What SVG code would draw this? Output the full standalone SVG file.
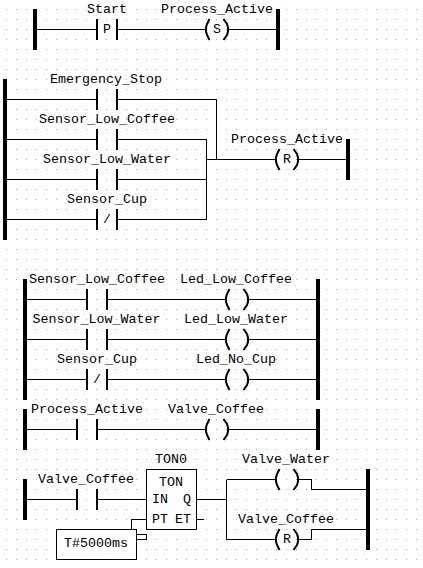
<svg xmlns="http://www.w3.org/2000/svg" width="423" height="568" viewBox="0 0 423 568">
<style>
text{font-family:"Liberation Mono","Courier New",monospace;font-size:13.33px;fill:#000}
.w{fill:none;stroke:#000;stroke-width:1;shape-rendering:crispEdges}
.c{stroke:#000;stroke-width:2;shape-rendering:crispEdges;fill:none}
.b{fill:#000;shape-rendering:crispEdges}
.p{fill:none;stroke:#000;stroke-width:2}
.box{fill:#fff;stroke:#000;stroke-width:1;shape-rendering:crispEdges}
</style>
<defs>
<pattern id="dots" width="10" height="10" patternUnits="userSpaceOnUse" x="6" y="9"><rect width="1" height="1" fill="#a8a8a8"/></pattern>
<g id="contact"><path class="c" d="M-10 -10.5V10.5M10 -10.5V10.5"/></g>
<g id="coil"><path class="p" d="M-7.5 -10.5L-10 -5.5L-11 -2V2L-10 5.5L-7.5 10.5M6.5 -10.5L10 -5.5L11 -2V2L10 5.5L6.5 10.5"/></g>
</defs>
<rect width="423" height="568" fill="#fff"/>
<rect width="423" height="568" fill="url(#dots)"/>
<g id="connectors">
<path class="w" d="M37 29.5H97M117 29.5H206M228 29.5H276"/>
<path class="w" d="M7 99.5H97M117 99.5H216.5V159.5M7 139.5H97M117 139.5H206.5V219.5M7 179.5H97M117 179.5H206.5M7 219.5H97M117 219.5H206.5M206.5 159.5H276M298 159.5H346"/>
<path class="w" d="M27 299.5H87M107 299.5H226M248 299.5H316M27 339.5H87M107 339.5H226M248 339.5H316M27 379.5H87M107 379.5H226M248 379.5H316"/>
<path class="w" d="M27 429.5H77M97 429.5H206M228 429.5H316"/>
<path class="w" d="M27 499.5H77M97 499.5H146M196 499.5H226.5M226.5 479.5V539.5M226.5 479.5H276M226.5 539.5H276M298 479.5H311.5V489.5H366M298 539.5H311.5V529.5H366M197 519.5H204M131.5 529V519.5H146M136 534.5H146.5V539.5H136"/>
</g>
<g id="rails">
<rect class="b" x="33" y="9" width="4" height="41"/><rect class="b" x="276" y="9" width="4" height="41"/>
<rect class="b" x="3" y="79" width="4" height="161"/><rect class="b" x="346" y="139" width="4" height="41"/>
<rect class="b" x="23" y="279" width="4" height="121"/><rect class="b" x="316" y="279" width="4" height="121"/>
<rect class="b" x="23" y="409" width="4" height="41"/><rect class="b" x="316" y="409" width="4" height="41"/>
<rect class="b" x="23" y="479" width="4" height="41"/><rect class="b" x="366" y="469" width="4" height="81"/>
</g>
<g id="c1"><use href="#contact" x="107" y="29.5"/><text x="87" y="13">Start</text><text x="103" y="33">P</text></g>
<g id="o1"><use href="#coil" x="217" y="29.5"/><text x="161" y="13">Process_Active</text><text x="213" y="33">S</text></g>
<g id="c2"><use href="#contact" x="107" y="99.5"/><text x="50" y="83">Emergency_Stop</text></g>
<g id="c3"><use href="#contact" x="107" y="139.5"/><text x="39" y="123">Sensor_Low_Coffee</text></g>
<g id="c4"><use href="#contact" x="107" y="179.5"/><text x="43" y="163">Sensor_Low_Water</text></g>
<g id="c5"><use href="#contact" x="107" y="219.5"/><text x="67" y="203">Sensor_Cup</text><text x="103" y="223">/</text></g>
<g id="o2"><use href="#coil" x="287" y="159.5"/><text x="231" y="143">Process_Active</text><text x="283" y="163">R</text></g>
<g id="c6"><use href="#contact" x="97" y="299.5"/><text x="29" y="283">Sensor_Low_Coffee</text></g>
<g id="o3"><use href="#coil" x="237" y="299.5"/><text x="180" y="283">Led_Low_Coffee</text></g>
<g id="c7"><use href="#contact" x="97" y="339.5"/><text x="32.5" y="323">Sensor_Low_Water</text></g>
<g id="o4"><use href="#coil" x="237" y="339.5"/><text x="184" y="323">Led_Low_Water</text></g>
<g id="c8"><use href="#contact" x="97" y="379.5"/><text x="57" y="363">Sensor_Cup</text><text x="93" y="383">/</text></g>
<g id="o5"><use href="#coil" x="237" y="379.5"/><text x="196" y="363">Led_No_Cup</text></g>
<g id="c9"><use href="#contact" x="87" y="429.5"/><text x="31" y="413">Process_Active</text></g>
<g id="o6"><use href="#coil" x="217" y="429.5"/><text x="168" y="413">Valve_Coffee</text></g>
<g id="c10"><use href="#contact" x="87" y="499.5"/><text x="38" y="483">Valve_Coffee</text></g>
<g id="ton"><rect class="box" x="146.5" y="469.5" width="50" height="60"/><text x="159" y="486">TON</text><text x="155" y="463">TON0</text><text x="152" y="503">IN</text><text x="183" y="503">Q</text><text x="152" y="523">PT</text><text x="175" y="523">ET</text></g>
<g id="t"><rect class="box" x="56.5" y="529.5" width="80" height="30"/><text x="64" y="547">T#5000ms</text></g>
<g id="o7"><use href="#coil" x="287" y="479.5"/><text x="242" y="463">Valve_Water</text></g>
<g id="o8"><use href="#coil" x="287" y="539.5"/><text x="238" y="523">Valve_Coffee</text><text x="283" y="543">R</text></g>
</svg>
